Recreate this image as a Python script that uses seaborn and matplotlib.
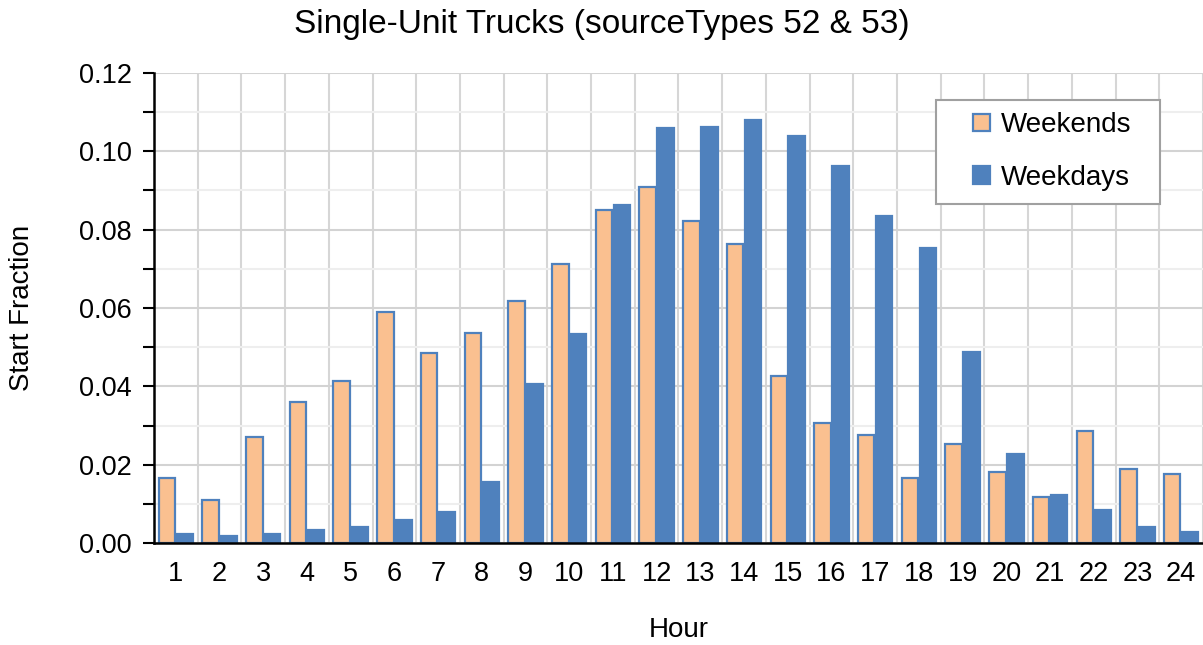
import matplotlib
matplotlib.use("Agg")
import matplotlib.pyplot as plt
import seaborn as sns
import pandas as pd
from matplotlib.ticker import FixedLocator, MultipleLocator
from matplotlib.patches import Rectangle

hours = [str(h) for h in range(1, 25)]
weekends = [0.0167, 0.0111, 0.0271, 0.0361, 0.0413, 0.0590, 0.0486, 0.0535, 0.0617, 0.0713,
            0.0849, 0.0908, 0.0822, 0.0763, 0.0426, 0.0307, 0.0277, 0.0167, 0.0254, 0.0181,
            0.0118, 0.0286, 0.0188, 0.0176]
weekdays = [0.0023, 0.0017, 0.0023, 0.0034, 0.0040, 0.0060, 0.0078, 0.0156, 0.0406, 0.0534,
            0.0864, 0.1059, 0.1062, 0.1079, 0.1039, 0.0963, 0.0836, 0.0754, 0.0487, 0.0226,
            0.0122, 0.0084, 0.0040, 0.0029]
series_names = ["Weekends", "Weekdays"]

df = pd.DataFrame({
    "Hour": hours * 2,
    "Start Fraction": weekends + weekdays,
    "Series": [series_names[0]] * 24 + [series_names[1]] * 24,
})

sns.set_theme(style="white")
plt.rcParams["font.family"] = ["Liberation Sans", "DejaVu Sans"]
for k in ["text.color", "axes.labelcolor", "xtick.color", "ytick.color"]:
    plt.rcParams[k] = "black"

W, H = 1203, 645
fig = plt.figure(figsize=(W / 100, H / 100), dpi=100)
ax = fig.add_axes([154 / W, 102 / H, 1 - 154 / W, 470 / H])

sns.barplot(data=df, x="Hour", y="Start Fraction", hue="Series", hue_order=series_names,
            palette=["#FAC090", "#4F81BD"], edgecolor="#4F81BD", linewidth=1.6,
            gap=0.08, width=0.82, saturation=1, ax=ax, legend=True)

ax.set_xlim(-0.5, 23.5)
ax.yaxis.set_major_locator(MultipleLocator(0.02))
ax.yaxis.set_minor_locator(MultipleLocator(0.01))
ax.set_yticks([0.0, 0.02, 0.04, 0.06, 0.08, 0.10, 0.12])
ax.set_yticklabels([f"{v:.2f}" for v in ax.get_yticks()])
ax.set_ylim(0, 0.12)
ax.xaxis.set_minor_locator(FixedLocator([i + 0.5 for i in range(24)]))

ax.set_axisbelow(True)
ax.grid(axis="x", which="minor", color="#D6D6D6", linewidth=1.5)
ax.grid(axis="x", which="major", visible=False)
ax.grid(axis="y", which="major", color="#D3D3D3", linewidth=1.5)
ax.grid(axis="y", which="minor", color="#EEEEEE", linewidth=1.5)

for s in ["top", "right"]:
    ax.spines[s].set_visible(False)
for s in ["left", "bottom"]:
    ax.spines[s].set_color("black")
    ax.spines[s].set_linewidth(1.8)

ax.tick_params(axis="y", which="both", left=True, length=8, width=1.5, color="black",
               labelsize=19.5, pad=8)
ax.tick_params(axis="x", which="both", bottom=False, length=0, labelsize=19.5, pad=13)

ax.set_xlabel("Hour", fontsize=20)
ax.set_ylabel("Start Fraction", fontsize=20)
ax.xaxis.set_label_coords(0.5, (543 - 630) / 470)
ax.xaxis.label.set_verticalalignment("center")
ax.yaxis.set_label_coords((22 - 154) / 1049, 0.5)
ax.yaxis.label.set_verticalalignment("center")

fig.text(0.5, 1 - 25 / H, "Single-Unit Trucks (sourceTypes 52 & 53)", fontsize=24,
         ha="center", va="center")

leg = ax.legend(loc="center left", bbox_to_anchor=(973 / W, 1 - 151.5 / H),
                bbox_transform=fig.transFigure, fontsize=20, frameon=False,
                labelspacing=0.95, handlelength=0.6, handleheight=0.6,
                handletextpad=0.4, borderpad=0, borderaxespad=0)
leg.set_zorder(6)
frame = Rectangle((936 / W, 1 - 204 / H), (1160 - 936) / W, (204 - 100) / H,
                  transform=fig.transFigure, facecolor="white", edgecolor="#A0A0A0",
                  linewidth=1.5, zorder=5.5, clip_on=False)
ax.add_patch(frame)

fig.savefig("out.png", dpi=100)
